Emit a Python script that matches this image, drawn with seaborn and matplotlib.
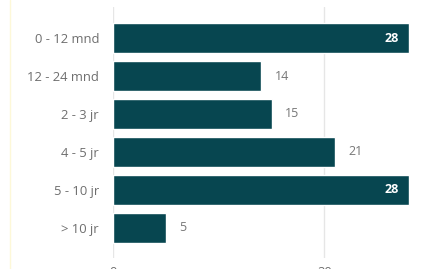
import matplotlib
matplotlib.use("Agg")
import matplotlib.pyplot as plt
import seaborn as sns
import pandas as pd
from matplotlib.lines import Line2D

categories = ["0 - 12 mnd", "12 - 24 mnd", "2 - 3 jr", "4 - 5 jr", "5 - 10 jr", "> 10 jr"]
values = [28, 14, 15, 21, 28, 5]
xticks = [0, 20]
inside_threshold = 25

sns.set_theme(style="white")
plt.rcParams["font.family"] = ["Open Sans", "DejaVu Sans"]

df = pd.DataFrame({"cat": categories, "val": values})

W, H = 429, 269
fig = plt.figure(figsize=(W / 100, H / 100), dpi=100)
fig.patch.set_facecolor("white")
left, right, top, bottom = 113, 425, 7, 258
ax = fig.add_axes([left / W, 1 - bottom / H, (right - left) / W, (bottom - top) / H])

bar_color = "#074650"
sns.barplot(data=df, x="val", y="cat", orient="h", color=bar_color, width=0.78,
            saturation=1, ax=ax)

px_per_unit = 10.57
ax.set_xlim(0, (right - left) / px_per_unit)
ax.set_ylim(5.79, -0.816)
ax.set_xticks(xticks)
ax.set_xticklabels([str(t) for t in xticks])
ax.set_xlabel("")
ax.set_ylabel("")
for s in ax.spines.values():
    s.set_visible(False)
ax.grid(False)
for t in xticks:
    ax.axvline(t, color="#e6e6e6", lw=1, zorder=0)
ax.tick_params(axis="y", length=0, pad=10, labelsize=9.4, labelcolor="#6e6e6e")
ax.tick_params(axis="x", length=0, pad=6, labelsize=9.4, labelcolor="#6e6e6e")

for i, v in enumerate(values):
    if v >= inside_threshold:
        ax.text(v - 1.0, i, str(v), ha="right", va="center", color="white",
                fontsize=9, fontweight="bold")
    else:
        ax.text(v + 1.3, i, str(v), ha="left", va="center", color="#777777",
                fontsize=9)

fig.add_artist(Line2D([10 / W, 10 / W], [0, 1], color="#fdf8d8", lw=1))

fig.savefig("out.png", dpi=100, facecolor="white")
